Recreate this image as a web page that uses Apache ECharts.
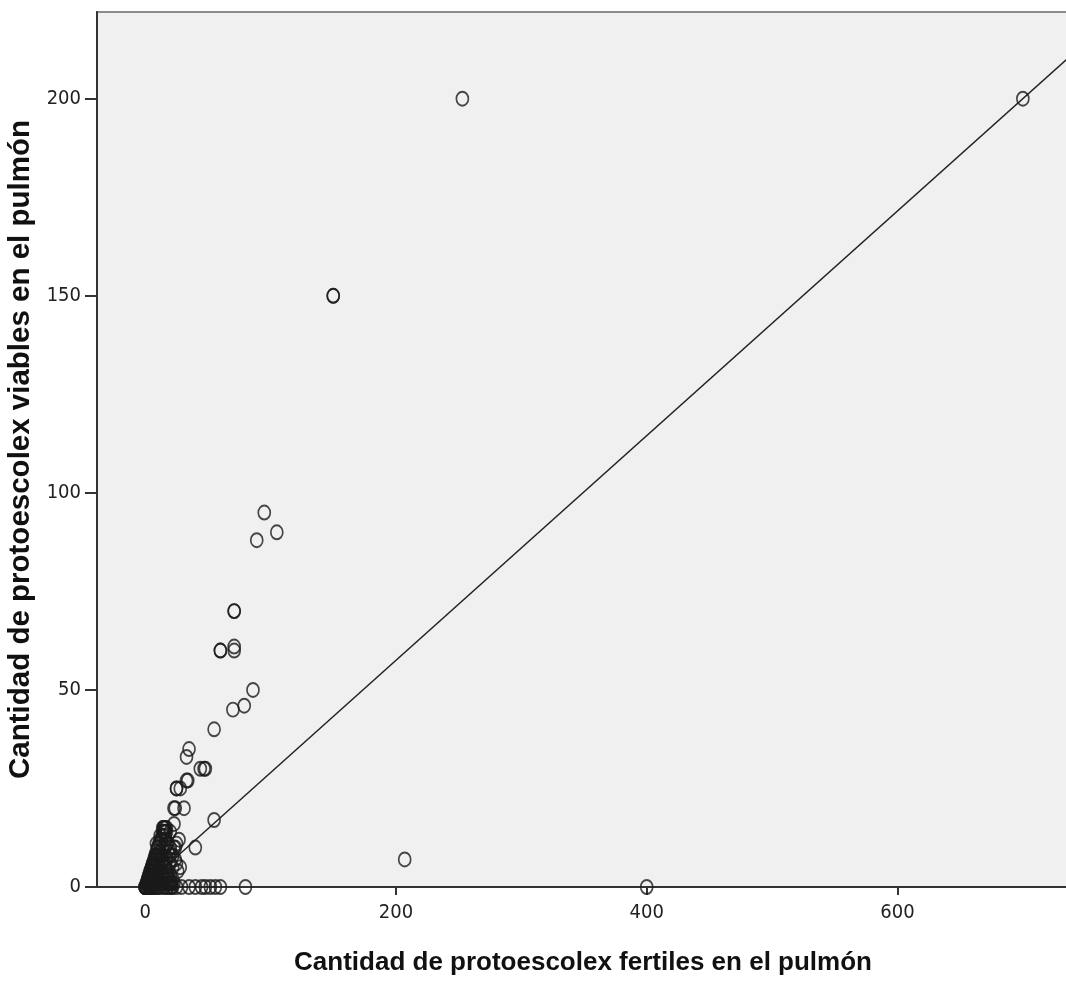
<!DOCTYPE html>
<html>
<head>
<meta charset="utf-8">
<script src="https://cdn.jsdelivr.net/npm/echarts@6/dist/echarts.min.js"></script>
<style>
html,body{margin:0;padding:0;background:#fff;}
#chart{width:1066px;height:981px;}
</style>
</head>
<body>
<div id="chart"></div>
<script>
// Fertile protoscolices (x) and viable protoscolices (y) per case
const fertiles = [
  700,253,150,150,95,105,89,71,71,71,71,60,60,86,79,70,55,35,33,44,47,48,34,25,25,28,33,23,31,24,55,15,15,16,17,23,14,12,20,40,207,400,80,
  9,16,23,24,17,25,27,12,10,20,26,24,25,28,22,20,18,
  25,29,35,40,45,48,52,56,60,
  0,1,1,2,2,2,3,3,3,3,4,4,4,4,5,5,5,5,6,6,6,6,7,7,7,7,8,8,8,8,8,9,9,9,10,10,10,10,11,11,12,12,12,13,13,14,14,15,15,16,17,18,18,19,20,20,21,22,22,
  0,0,0,1,1,2,2,3,3,4,4,5,5,6,6,7,8,9,10,11,12,13,14,15,16,17,18,19,20,21,
  14,15,16,15,14,13,16,17,12,11,10,9,8,12,14,16,18,20,
  4,5,6,7,8,9,10,11,12,13,14,15,16,17,18,19,20,21,22,23
];
const viables = [
  200,200,150,150,95,90,88,70,70,61,60,60,60,50,46,45,40,35,33,30,30,30,27,25,25,25,27,20,20,20,17,15,15,15,15,16,15,13,14,10,7,0,0,
  11,10,10,10,11,11,12,11,10,10,4,7,6,5,8,9,9,
  0,0,0,0,0,0,0,0,0,
  0,0,1,0,1,2,0,1,2,3,0,2,3,4,0,1,3,5,0,2,4,6,0,3,5,7,0,2,4,6,8,1,5,7,0,3,6,8,2,5,0,4,7,1,6,3,8,0,5,2,7,0,4,1,3,6,0,2,5,
  0,0,0,0,1,1,2,2,3,3,4,4,5,5,6,6,7,8,8,8,8,8,7,6,5,4,3,2,1,1,
  14,14,14,15,13,12,13,14,12,11,10,9,8,9,10,12,11,8,
  0,1,2,3,2,1,0,2,1,3,1,2,0,3,1,2,0,1,0,1
];
// Linear fit line (total)
const fitIntercept = 0.5;
const fitSlope = 0.285;
const xTicks = [0, 200, 400, 600];
const yTicks = [0, 50, 100, 150, 200];
const xMin = -38.4, xMax = 736.8, yMin = 0, yMax = 222;

const points = fertiles.map((v, i) => [v, viables[i]]);
const xStart = (yMin - fitIntercept) / fitSlope;
const fitLine = [[xStart, yMin], [xMax, fitIntercept + fitSlope * xMax]];

const chart = echarts.init(document.getElementById('chart'), null, {renderer: 'canvas'});
const tickFont = {fontFamily: '"DejaVu Sans Condensed", "Liberation Sans Narrow", "Liberation Sans", Arial, sans-serif', fontSize: 20, color: '#222'};
chart.setOption({
  animation: false,
  backgroundColor: '#ffffff',
  grid: {
    left: 97, right: -3, top: 12, bottom: 94,
    show: true, backgroundColor: '#f0f0f0', borderColor: '#8c8c8c', borderWidth: 2,
    outerBoundsMode: 'none'
  },
  xAxis: {
    type: 'value', min: xMin, max: xMax,
    name: 'Cantidad de protoescolex fertiles en el pulmón',
    nameLocation: 'middle', nameGap: 63,
    nameTextStyle: {fontFamily: '"Liberation Sans", Arial, sans-serif', fontWeight: 'bold', fontSize: 26, color: '#111'},
    splitLine: {show: false},
    axisLine: {show: true, onZero: false, lineStyle: {color: '#333', width: 2}},
    axisTick: {show: true, length: 8, customValues: xTicks, lineStyle: {color: '#333', width: 2}},
    axisLabel: Object.assign({margin: 16, customValues: xTicks}, tickFont)
  },
  yAxis: {
    type: 'value', min: yMin, max: yMax,
    name: 'Cantidad de protoescolex viables en el pulmón',
    nameLocation: 'middle', nameGap: 50,
    nameTextStyle: {fontFamily: '"Liberation Sans", Arial, sans-serif', fontWeight: 'bold', fontSize: 29.5, color: '#111'},
    splitLine: {show: false},
    axisLine: {show: true, onZero: false, lineStyle: {color: '#333', width: 2}},
    axisTick: {show: true, length: 12, customValues: yTicks, lineStyle: {color: '#333', width: 2}},
    axisLabel: Object.assign({margin: 16, customValues: yTicks}, tickFont)
  },
  series: [
    {
      type: 'line', data: fitLine, showSymbol: false, clip: true, silent: true,
      lineStyle: {color: '#222', width: 1.5}, z: 2
    },
    {
      type: 'scatter', data: points, symbol: 'circle', symbolSize: [12, 14], clip: true,
      itemStyle: {color: 'rgba(0,0,0,0)', borderColor: '#1a1a1a', borderWidth: 1.8}, z: 3
    }
  ]
});
</script>
</body>
</html>
